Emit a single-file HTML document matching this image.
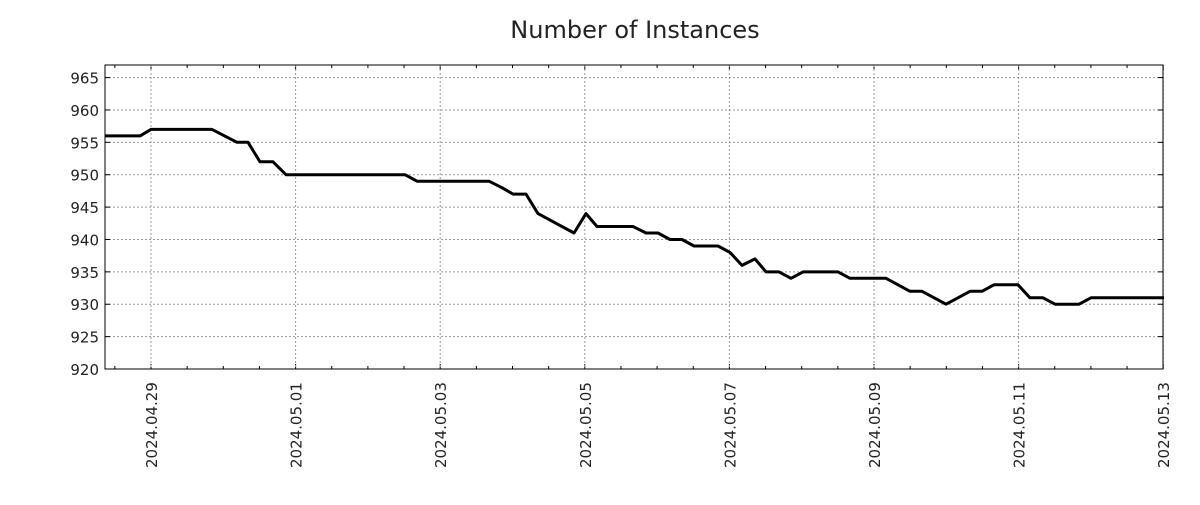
<!DOCTYPE html>
<html><head><style>
body{margin:0;background:#fff;}
svg text{font-family:"DejaVu Sans","Liberation Sans",sans-serif;fill:#222;}
</style></head><body>
<svg id="s" width="1200" height="500" xmlns="http://www.w3.org/2000/svg">
<rect width="1200" height="500" fill="#fff"/>
<text x="635" y="38" font-size="24" text-anchor="middle">Number of Instances</text>
<g id="g"></g>
</svg>
<script>
const g=document.getElementById('g');const NS='http://www.w3.org/2000/svg';
function el(t,a,txt){const e=document.createElementNS(NS,t);for(const k in a)e.setAttribute(k,a[k]);if(txt)e.textContent=txt;g.appendChild(e);return e;}
const L=105,R=1163,T=65,B=369;
const Y=v=>369-(v-920)*6.476;
for(let v=920;v<=965;v+=5){const y=Y(v);
 if(v>920)el('line',{x1:L,x2:R,y1:y,y2:y,stroke:'#999','stroke-dasharray':'2,2','stroke-width':1});
 el('line',{x1:L,x2:L+5,y1:y,y2:y,stroke:'#000'});el('line',{x1:R-5,x2:R,y1:y,y2:y,stroke:'#000'});
 el('text',{x:99,y:y+6,'font-size':15,'text-anchor':'end'},String(v));}
const days=['2024.04.29','2024.05.01','2024.05.03','2024.05.05','2024.05.07','2024.05.09','2024.05.11','2024.05.13'];
const d0=151,pd=72.3/2;
for(let i=-1;i<30;i++){const x=d0+i*pd;if(x<L||x>R+1)continue;
 const major=i%4==0;const len=major?5:3;
 el('line',{x1:x,x2:x,y1:B,y2:B-len,stroke:'#000'});el('line',{x1:x,x2:x,y1:T,y2:T+len,stroke:'#000'});
 if(major){el('line',{x1:x,x2:x,y1:T,y2:B,stroke:'#999','stroke-dasharray':'2,2'});
  const lx=x+6;el('text',{x:lx,y:468,'font-size':15,transform:`rotate(-90 ${lx} 468)`},days[i/4]);}}
el('rect',{x:L,y:T,width:R-L,height:B-T,fill:'none',stroke:'#000','stroke-width':1});
const P=[[105,956],[140,956],[151,957],[212,957],[237,955],[248,955],[260,952],[273,952],[286,950],[405,950],[417,949],[489,949],[502,948],[513,947],[526,947],[538,944],[550,943],[574,941],[586,944],[597,942],[633,942],[646,941],[658,941],[670,940],[682,940],[694,939],[718,939],[730,938],[742,936],[755,937],[766,935],[779,935],[791,934],[803,935],[838,935],[850,934],[886,934],[898,933],[910,932],[922,932],[946,930],[958,931],[970,932],[982,932],[994,933],[1018,933],[1030,931],[1043,931],[1055,930],[1079,930],[1091,931],[1164,931]];
el('polyline',{points:P.map(p=>p[0]+','+Y(p[1]).toFixed(1)).join(' '),fill:'none',stroke:'#000','stroke-width':3,'stroke-linejoin':'round'});
</script>
</body></html>
